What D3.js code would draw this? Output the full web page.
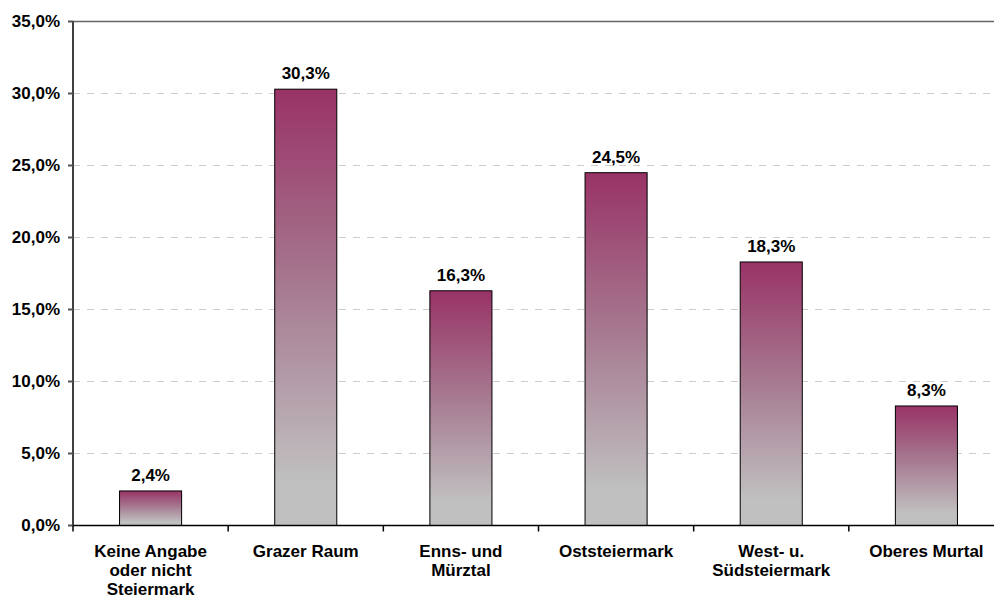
<!DOCTYPE html>
<html>
<head>
<meta charset="utf-8">
<script src="https://cdn.jsdelivr.net/npm/d3@7"></script>
<style>
  body { margin: 0; background: #fff; }
  text { font-family: "Liberation Sans", Arial, sans-serif; font-weight: bold; fill: #000; }
</style>
</head>
<body>
<div id="wrapper"></div>
<script>
// data
const categories = [
  "Keine Angabe|oder nicht|Steiermark",
  "Grazer Raum",
  "Enns- und|Mürztal",
  "Oststeiermark",
  "West- u.|Südsteiermark",
  "Oberes Murtal"
]
const values = [2.4, 30.3, 16.3, 24.5, 18.3, 8.3]
const yTicks = [0, 5, 10, 15, 20, 25, 30, 35]

function drawChart() {
  const fmt = v => d3.format(".1f")(v).replace(".", ",") + "%"

  // dimensions
  let dimensions = {
    width: 994,
    height: 603,
    margin: { top: 21.5, right: -10, bottom: 77.5, left: 73 }
  }
  dimensions.boundedWidth = dimensions.width - dimensions.margin.left - dimensions.margin.right
  dimensions.boundedHeight = dimensions.height - dimensions.margin.top - dimensions.margin.bottom

  const wrapper = d3.select("#wrapper")
    .append("svg")
      .attr("width", dimensions.width)
      .attr("height", dimensions.height)
      .style("display", "block")

  const bounds = wrapper.append("g")
    .attr("transform", `translate(${dimensions.margin.left},${dimensions.margin.top})`)

  // scales
  const xScale = d3.scaleBand()
    .domain(categories)
    .range([0, dimensions.boundedWidth])
    .paddingInner(0.6)
    .paddingOuter(0.3)

  const step = dimensions.boundedWidth / categories.length

  const yScale = d3.scaleLinear()
    .domain([0, 35])
    .range([dimensions.boundedHeight, 0])

  // gradient for bars
  const defs = wrapper.append("defs")
  const grad = defs.append("linearGradient")
      .attr("id", "bar-gradient")
      .attr("x1", 0).attr("y1", 0).attr("x2", 0).attr("y2", 1)
  grad.append("stop").attr("offset", "0%").attr("stop-color", "#993366")
  grad.append("stop").attr("offset", "45%").attr("stop-color", "#a67990")
  grad.append("stop").attr("offset", "90%").attr("stop-color", "#c0c0c0")
  grad.append("stop").attr("offset", "100%").attr("stop-color", "#c0c0c0")

  // gridlines
  bounds.selectAll(".grid")
    .data(yTicks.filter(d => d > 0 && d < 35))
    .join("line")
      .attr("x1", 0)
      .attr("x2", dimensions.boundedWidth)
      .attr("y1", d => yScale(d))
      .attr("y2", d => yScale(d))
      .attr("stroke", "#cccccc")
      .attr("stroke-dasharray", "7,7")

  // top line
  bounds.append("line")
    .attr("x1", 0).attr("x2", dimensions.boundedWidth)
    .attr("y1", yScale(35)).attr("y2", yScale(35))
    .attr("stroke", "#666")
    .attr("stroke-width", 1.5)

  // bars
  bounds.selectAll(".bar")
    .data(values)
    .join("rect")
      .attr("x", (d, i) => xScale(categories[i]))
      .attr("y", d => yScale(d))
      .attr("width", xScale.bandwidth())
      .attr("height", d => yScale(0) - yScale(d))
      .attr("fill", "url(#bar-gradient)")
      .attr("stroke", "#000")
      .attr("stroke-width", 1)

  // value labels
  bounds.selectAll(".value")
    .data(values)
    .join("text")
      .attr("x", (d, i) => xScale(categories[i]) + xScale.bandwidth() / 2)
      .attr("y", d => yScale(d) - 10)
      .attr("text-anchor", "middle")
      .style("font-size", "17px")
      .text(d => fmt(d))

  // y axis
  bounds.append("line")
    .attr("x1", 0).attr("x2", 0)
    .attr("y1", 0).attr("y2", dimensions.boundedHeight)
    .attr("stroke", "#000")
    .attr("stroke-width", 1.5)

  bounds.selectAll(".ytick")
    .data(yTicks)
    .join("line")
      .attr("x1", -5).attr("x2", 0)
      .attr("y1", d => yScale(d)).attr("y2", d => yScale(d))
      .attr("stroke", "#555")
      .attr("stroke-width", 2)

  bounds.selectAll(".ylabel")
    .data(yTicks)
    .join("text")
      .attr("x", -13)
      .attr("y", d => yScale(d))
      .attr("dy", "0.35em")
      .attr("text-anchor", "end")
      .style("font-size", "17px")
      .text(d => fmt(d))

  // x axis
  bounds.append("line")
    .attr("x1", 0).attr("x2", dimensions.boundedWidth)
    .attr("y1", dimensions.boundedHeight).attr("y2", dimensions.boundedHeight)
    .attr("stroke", "#000")
    .attr("stroke-width", 1.5)

  bounds.selectAll(".xtick")
    .data(d3.range(categories.length + 1))
    .join("line")
      .attr("x1", i => i * step).attr("x2", i => i * step)
      .attr("y1", dimensions.boundedHeight).attr("y2", dimensions.boundedHeight + 6)
      .attr("stroke", "#000")
      .attr("stroke-width", 1.5)

  const catLabels = bounds.selectAll(".xlabel")
    .data(categories)
    .join("text")
      .attr("x", d => xScale(d) + xScale.bandwidth() / 2)
      .attr("y", dimensions.boundedHeight + 31)
      .attr("text-anchor", "middle")
      .style("font-size", "17px")

  catLabels.selectAll("tspan")
    .data(d => d.split("|"))
    .join("tspan")
      .attr("x", function() { return d3.select(this.parentNode).attr("x") })
      .attr("dy", (d, i) => i === 0 ? 0 : 19)
      .text(d => d)
}
drawChart()
</script>
</body>
</html>
